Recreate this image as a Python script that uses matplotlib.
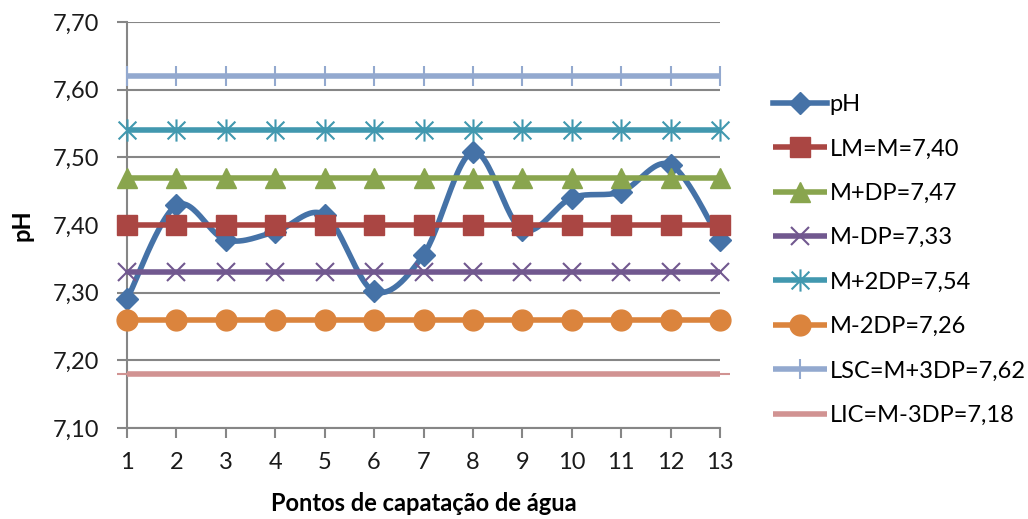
import numpy as np
import matplotlib
matplotlib.use('Agg')
import matplotlib.pyplot as plt
from matplotlib.path import Path
from matplotlib.ticker import FuncFormatter

plt.rcParams['font.family'] = ['Lato', 'DejaVu Sans']

# pH por ponto de captação
pontos = list(range(1, 14))
ph = [7.290, 7.429, 7.378, 7.390, 7.415, 7.302, 7.356,
      7.508, 7.393, 7.440, 7.449, 7.489, 7.378]

# limites de controle (constantes)
limites_nomes = ['LM=M=7,40', 'M+DP=7,47', 'M-DP=7,33', 'M+2DP=7,54',
                 'M-2DP=7,26', 'LSC=M+3DP=7,62', 'LIC=M-3DP=7,18']
limites_valores = [7.40, 7.47, 7.33, 7.54, 7.26, 7.62, 7.18]

y_ticks = [7.10, 7.20, 7.30, 7.40, 7.50, 7.60, 7.70]

# asterisco: vertical + x
star = Path([(0, -1), (0, 1), (-0.8, -0.8), (0.8, 0.8), (-0.8, 0.8), (0.8, -0.8)],
            [Path.MOVETO, Path.LINETO, Path.MOVETO, Path.LINETO, Path.MOVETO, Path.LINETO])

estilos = [
    dict(color='#AA4643', marker='s', ms=14),
    dict(color='#89A54E', marker='^', ms=15),
    dict(color='#71588F', marker='x', ms=13, mew=1.5),
    dict(color='#4198AF', marker=star, ms=16, mew=1.5),
    dict(color='#DB843D', marker='o', ms=15),
    dict(color='#93A9CF', marker='|', ms=14, mew=1.5),
    dict(color='#D19392', marker='_', ms=14, mew=1.5),
]


def suavizar(x, y, n=30):
    # curva suave tipo Bezier passando pelos pontos
    x = np.asarray(x, float)
    y = np.asarray(y, float)
    px = np.concatenate([[x[0]], x, [x[-1]]])
    py = np.concatenate([[y[0]], y, [y[-1]]])
    xs, ys = [], []
    t = np.linspace(0, 1, n)
    for i in range(1, len(px) - 2):
        p0 = np.array([px[i], py[i]])
        p3 = np.array([px[i + 1], py[i + 1]])
        p1 = p0 + (np.array([px[i + 1], py[i + 1]]) - np.array([px[i - 1], py[i - 1]])) / 6
        p2 = p3 - (np.array([px[i + 2], py[i + 2]]) - np.array([px[i], py[i]])) / 6
        b = ((1 - t) ** 3)[:, None] * p0 + (3 * (1 - t) ** 2 * t)[:, None] * p1 \
            + (3 * (1 - t) * t ** 2)[:, None] * p2 + (t ** 3)[:, None] * p3
        xs.extend(b[:, 0])
        ys.extend(b[:, 1])
    return xs, ys


fig = plt.figure(figsize=(10.28, 5.19), dpi=100)
ax = fig.add_axes([127 / 1028, 91 / 519, 593 / 1028, 406 / 519])

cinza = '#868686'
ax.set_ylim(7.10, 7.70)
ax.set_xlim(1, 13)
ax.set_yticks(y_ticks)
ax.set_xticks(pontos)
ax.yaxis.set_major_formatter(FuncFormatter(lambda v, p: '{:.2f}'.format(v).replace('.', ',')))
ax.grid(axis='y', color=cinza, lw=1.5)
ax.set_axisbelow(True)
for s in ['top', 'right']:
    ax.spines[s].set_visible(False)
for s in ['left', 'bottom']:
    ax.spines[s].set_color(cinza)
    ax.spines[s].set_linewidth(1.5)
ax.tick_params(axis='both', color=cinza, width=1.5, length=7, labelsize=17, labelcolor='#1a1a1a')
ax.tick_params(axis='y', pad=13)
ax.tick_params(axis='x', pad=10)

handles = []
xs, ys = suavizar(pontos, ph)
ax.plot(xs, ys, color='#4572A7', lw=4, clip_on=False, zorder=3)
ax.plot(pontos, ph, ls='none', marker='D', ms=11.5, color='#4572A7', clip_on=False, zorder=3)
h, = ax.plot([], [], color='#4572A7', lw=4, marker='D', ms=11)
handles.append(h)

for k, (nome, val, est) in enumerate(zip(limites_nomes, limites_valores, estilos)):
    ln, = ax.plot(pontos, [val] * len(pontos), lw=4, clip_on=False, zorder=4 + k,
                  solid_capstyle='butt', label=nome, **est)
    handles.append(ln)

ax.set_xlabel('Pontos de capatação de água', fontsize=17, fontweight='bold', labelpad=14)
ax.set_ylabel('pH', fontsize=17, fontweight='bold', labelpad=14)

fig.legend(handles, ['pH'] + limites_nomes, loc='center left',
           bbox_to_anchor=(773 / 1028, 0.499), bbox_transform=fig.transFigure,
           frameon=False, fontsize=17, handlelength=2.3, handletextpad=0.1,
           labelspacing=0.99, borderpad=0, borderaxespad=0)

fig.savefig('out.png', dpi=100)
